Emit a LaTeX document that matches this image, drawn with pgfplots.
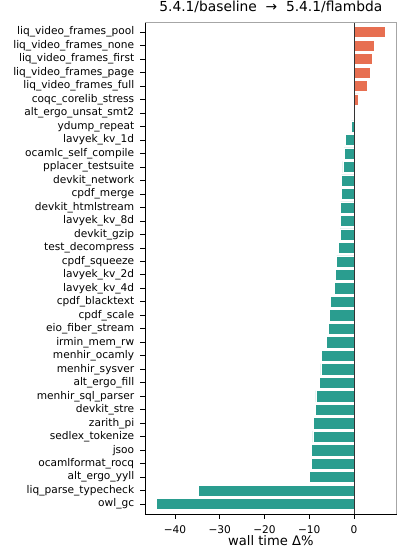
\documentclass[border=0pt]{standalone}
\usepackage{pgfplots}
\pgfplotsset{compat=1.18}
\usepackage{pgfplotstable}
\usepackage{fontspec}
\setmainfont{DejaVu Sans}
\definecolor{posc}{RGB}{231,111,81}
\definecolor{negc}{RGB}{42,157,143}
\pgfplotstableread{
y v
0 -44.2
1 -34.7
2 -9.9
3 -9.6
4 -9.5
5 -9.2
6 -9.0
7 -8.55
8 -8.5
9 -7.8
10 -7.4
11 -7.2
12 -6.1
13 -5.65
14 -5.5
15 -5.2
16 -4.45
17 -4.15
18 -3.9
19 -3.55
20 -3.1
21 -3.05
22 -3.0
23 -2.9
24 -2.75
25 -2.5
26 -2.2
27 -1.85
28 -0.6
}\negdata
\pgfplotstableread{
y v
29 0.0
30 1.05
31 3.05
32 3.7
33 4.1
34 4.5
35 7.0
}\posdata
\begin{document}
\begin{tikzpicture}
\useasboundingbox (0,0) rectangle (419pt,550pt);
\begin{axis}[
  at={(145pt,36pt)}, anchor=south west,
  scale only axis, width=251.7pt, height=491.7pt,
  xmin=-46.7, xmax=9.54, ymin=-0.73, ymax=35.73,
  axis x line*=bottom, axis y line*=left,
  axis line style={black, line width=0.9pt},
  tick align=outside, major tick length=4.9pt,
  tick style={black, line width=0.8pt},
  xtick={-40,-30,-20,-10,0},
  xticklabels={−40,−30,−20,−10,0},
  ytick={0,...,35},
  yticklabels={owl\_gc,liq\_parse\_typecheck,alt\_ergo\_yyll,ocamlformat\_rocq,jsoo,sedlex\_tokenize,zarith\_pi,devkit\_stre,menhir\_sql\_parser,alt\_ergo\_fill,menhir\_sysver,menhir\_ocamly,irmin\_mem\_rw,eio\_fiber\_stream,cpdf\_scale,cpdf\_blacktext,lavyek\_kv\_4d,lavyek\_kv\_2d,cpdf\_squeeze,test\_decompress,devkit\_gzip,lavyek\_kv\_8d,devkit\_htmlstream,cpdf\_merge,devkit\_network,pplacer\_testsuite,ocamlc\_self\_compile,lavyek\_kv\_1d,ydump\_repeat,alt\_ergo\_unsat\_smt2,coqc\_corelib\_stress,liq\_video\_frames\_full,liq\_video\_frames\_page,liq\_video\_frames\_first,liq\_video\_frames\_none,liq\_video\_frames\_pool},
  ticklabel style={font=\fontsize{10.6}{12.5}\selectfont},
  yticklabel style={anchor=east, inner sep=0pt, xshift=-5.7pt},
  xticklabel style={anchor=base, inner sep=0pt, yshift=-15pt},
  xlabel={wall time Δ\%},
  xlabel style={at={(axis description cs:0.5,0)}, anchor=base, yshift=-31.7pt, font=\fontsize{13.1}{15}\selectfont, inner sep=0pt},
  title={5.4.1/baseline \ → \ 5.4.1/flambda},
  title style={at={(axis description cs:0.5,1)}, anchor=base, yshift=5pt, font=\fontsize{13.8}{16}\selectfont, inner sep=0pt},
  clip=false,
]
\addplot[xbar, bar width=11.2pt, bar shift=0pt, fill=negc, draw=white, line width=0.6pt] table[x=v, y=y] {\negdata};
\addplot[xbar, bar width=11.2pt, bar shift=0pt, fill=posc, draw=white, line width=0.6pt] table[x=v, y=y] {\posdata};
\addplot[black!80, line width=0.9pt] coordinates {(0,-0.73) (0,35.73)};
\draw[gray!70, line width=0.9pt] (rel axis cs:0,1) -- (rel axis cs:1,1) -- (rel axis cs:1,0);
\end{axis}
\end{tikzpicture}
\end{document}
